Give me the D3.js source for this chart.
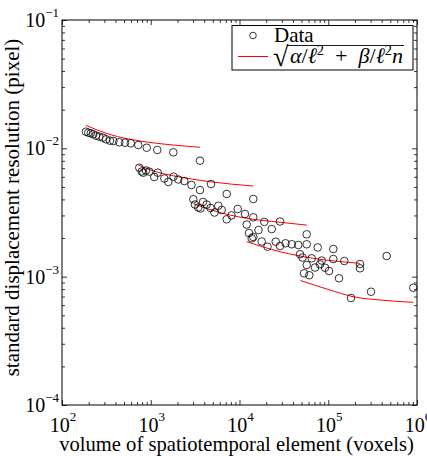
<!DOCTYPE html>
<html>
<head>
<meta charset="utf-8">
<script src="https://cdn.jsdelivr.net/npm/d3@7"></script>
<style>
  body { margin: 0; background: #fff; }
  svg text { font-family: "Liberation Serif", "Times New Roman", serif; fill: #000; }
</style>
</head>
<body>
<svg id="chart" width="427" height="456"></svg>
<script>
const dataVolume = [
  186, 198, 211, 225, 242, 263, 288, 313, 347, 379, 442, 513, 595, 724, 901, 1185, 1796, 3588,
  743, 791, 824, 884, 963, 1096, 1197, 1421, 1576, 1805, 2044, 2388, 2879, 3588, 4774, 7174, 14300,
  3017, 3151, 3435, 3636, 3879, 4270, 4712, 5228, 5769, 6301, 7174, 8126, 9544, 11530, 14300, 19030, 28600,
  12050, 12790, 13730, 14300, 16380, 17790, 20680, 23060, 25580, 28600, 32990, 38750, 45970, 48050,
  51280, 57180, 57180, 65100, 76050, 84370, 80750, 91920, 102000, 114000, 114000, 151600, 227900,
  227900, 455700, 57180, 70930, 53320, 61160, 132200,
  180400, 303100, 908400
];
const dataResolution = [
  0.01348, 0.01324, 0.01310, 0.01287, 0.01255, 0.01233, 0.01211, 0.01176, 0.01147, 0.01141, 0.01115,
  0.01106, 0.01095, 0.01061, 0.01011, 0.00971, 0.00931, 0.00801,
  0.00706, 0.00660, 0.00646, 0.00672, 0.00658, 0.00598, 0.00646, 0.00582, 0.00547, 0.00601, 0.00572,
  0.00556, 0.00518, 0.00473, 0.00527, 0.00441, 0.00403,
  0.00401, 0.00365, 0.00346, 0.00340, 0.00382, 0.00365, 0.00343, 0.00316, 0.00357, 0.00331, 0.00280,
  0.00300, 0.00337, 0.00308, 0.00290, 0.00267, 0.00269,
  0.002549, 0.002188, 0.001990, 0.002037, 0.002310, 0.001879, 0.001712, 0.002352, 0.001873, 0.001734,
  0.001820, 0.001788, 0.001765, 0.001496, 0.001410, 0.002138, 0.001788, 0.001390, 0.001688, 0.001336,
  0.001248, 0.001174, 0.001107, 0.001643, 0.001373, 0.001324, 0.001255, 0.001162, 0.001449, 0.001233,
  0.001178, 0.001062, 0.001026, 0.000971,
  0.000682, 0.000763, 0.000820
];

// fitted curve segments (one per element size)
const fitVolume = [
  [186, 347, 757, 1796, 3588],
  [724, 1117, 1796, 4651, 14300],
  [3072, 5068, 12050, 28600, 57180],
  [12050, 28600, 67850, 227900],
  [48670, 104600, 191600, 382900, 908400]
];
const fitResolution = [
  [0.01511, 0.01282, 0.01141, 0.01061, 0.01019],
  [0.007413, 0.006599, 0.006116, 0.005494, 0.005085],
  [0.003683, 0.003268, 0.002849, 0.002653, 0.002523],
  [0.001873, 0.001565, 0.001390, 0.001271],
  [0.000933, 0.000787, 0.000698, 0.000658, 0.000631]
];

const xMajor = [1e2, 1e3, 1e4, 1e5, 1e6];
const xMajorExp = ["2", "3", "4", "5", "6"];
const yMajor = [1e-1, 1e-2, 1e-3, 1e-4];
const yMajorExp = ["\u22121", "\u22122", "\u22123", "\u22124"];

const xTitle = "volume of spatiotemporal element (voxels)";
const yTitle = "standard displacement resolution (pixel)";
const legendData = "Data";

const width = 427, height = 456;
const margin = { top: 20, right: 10, bottom: 51, left: 62 };
const plotLeft = margin.left, plotRight = width - margin.right;
const plotTop = margin.top, plotBottom = height - margin.bottom;

const svg = d3.select("#chart");

let x = d3.scaleLog().domain([1e2, 1e6]).range([plotLeft, plotRight]);
let y = d3.scaleLog().domain([1e-4, 1e-1]).range([plotBottom, plotTop]);

let isMajor = v => Math.abs(Math.log10(v) - Math.round(Math.log10(v))) < 1e-9;
let xMinor = x.ticks().filter(v => !isMajor(v));
let yMinor = y.ticks().filter(v => !isMajor(v));

// ticks point inwards on all four sides
function tickSet(axisFn, scale, values, size, transform) {
  let g = svg.append("g")
    .attr("transform", transform)
    .call(axisFn(scale).tickValues(values).tickSize(-size).tickFormat(""));
  g.select(".domain").remove();
  g.selectAll(".tick line").attr("stroke", "#000").attr("stroke-width", 0.8);
  return g;
}

tickSet(d3.axisBottom, x, xMinor, 3, `translate(0,${plotBottom})`);
tickSet(d3.axisBottom, x, xMajor, 5, `translate(0,${plotBottom})`);
tickSet(d3.axisTop, x, xMinor, 3, `translate(0,${plotTop})`);
tickSet(d3.axisTop, x, xMajor, 5, `translate(0,${plotTop})`);
tickSet(d3.axisLeft, y, yMinor, 3, `translate(${plotLeft},0)`);
tickSet(d3.axisLeft, y, yMajor, 5, `translate(${plotLeft},0)`);
tickSet(d3.axisRight, y, yMinor, 3, `translate(${plotRight},0)`);
tickSet(d3.axisRight, y, yMajor, 5, `translate(${plotRight},0)`);

// tick labels as 10 with a raised exponent
xMajor.forEach((v, i) => {
  let t = svg.append("text")
    .attr("x", x(v) + 1)
    .attr("y", 432)
    .attr("text-anchor", "middle")
    .attr("font-size", 20);
  t.append("tspan").text("10");
  t.append("tspan").attr("dy", -11).attr("font-size", 13).text(xMajorExp[i]);
});

yMajor.forEach((v, i) => {
  let t = svg.append("text")
    .attr("x", 59)
    .attr("y", y(v) + 7)
    .attr("text-anchor", "end")
    .attr("font-size", 20);
  t.append("tspan").text("10");
  t.append("tspan").attr("dy", -10).attr("font-size", 13).text(yMajorExp[i]);
});

// fitted segments
let line = d3.line()
  .x(d => x(d[0]))
  .y(d => y(d[1]))
  .curve(d3.curveMonotoneX);

svg.append("g")
  .selectAll("path")
  .data(fitVolume.map((vs, i) => vs.map((v, j) => [v, fitResolution[i][j]])))
  .join("path")
  .attr("d", line)
  .attr("fill", "none")
  .attr("stroke", "#f00")
  .attr("stroke-width", 1);

// data markers
svg.append("g")
  .selectAll("circle")
  .data(dataVolume.map((v, i) => [v, dataResolution[i]]))
  .join("circle")
  .attr("cx", d => x(d[0]))
  .attr("cy", d => y(d[1]))
  .attr("r", 3.8)
  .attr("fill", "none")
  .attr("stroke", "#000")
  .attr("stroke-width", 0.8);

// plot frame
svg.append("rect")
  .attr("x", plotLeft).attr("y", plotTop)
  .attr("width", plotRight - plotLeft).attr("height", plotBottom - plotTop)
  .attr("fill", "none").attr("stroke", "#000").attr("stroke-width", 1);

// axis titles
svg.append("text")
  .attr("x", (plotLeft + plotRight) / 2 - 3)
  .attr("y", 451)
  .attr("text-anchor", "middle")
  .attr("font-size", 20.6)
  .text(xTitle);

svg.append("text")
  .attr("transform", `translate(19,${(plotTop + plotBottom) / 2 - 5}) rotate(-90)`)
  .attr("text-anchor", "middle")
  .attr("font-size", 21)
  .text(yTitle);

// legend
let legend = svg.append("g");
legend.append("rect")
  .attr("x", 232).attr("y", 25.5)
  .attr("width", 181).attr("height", 44.5)
  .attr("fill", "#fff").attr("stroke", "#000").attr("stroke-width", 1);

legend.append("circle")
  .attr("cx", 253).attr("cy", 35.5).attr("r", 3.3)
  .attr("fill", "none").attr("stroke", "#000").attr("stroke-width", 0.8);
legend.append("text")
  .attr("x", 274).attr("y", 42)
  .attr("font-size", 21)
  .text(legendData);

legend.append("line")
  .attr("x1", 238).attr("x2", 268)
  .attr("y1", 56.5).attr("y2", 56.5)
  .attr("stroke", "#f00").attr("stroke-width", 1);

legend.append("text")
  .attr("x", 273).attr("y", 66)
  .attr("font-size", 28)
  .text("\u221A");

let expr = legend.append("text")
  .attr("x", 290).attr("y", 63)
  .attr("font-size", 22);
let parts = [
  ["\u03B1", true], ["/", false], ["\u2113", true], ["2", "sup"], ["\u2002+\u2002", false],
  ["\u03B2", true], ["/", false], ["\u2113", true], ["2", "sup"], ["n", true]
];
let raised = false;
parts.forEach(([s, kind]) => {
  let ts = expr.append("tspan").text(s);
  if (kind === "sup") {
    ts.attr("dy", -8).attr("font-size", 14.5);
    raised = true;
  } else {
    if (raised) { ts.attr("dy", 8); raised = false; }
    if (kind === true) ts.attr("font-style", "italic");
  }
});

let eb = expr.node().getBBox();
legend.append("line")
  .attr("x1", 287).attr("x2", eb.x + eb.width + 1)
  .attr("y1", 45.5).attr("y2", 45.5)
  .attr("stroke", "#000").attr("stroke-width", 0.9);
</script>
</body>
</html>
